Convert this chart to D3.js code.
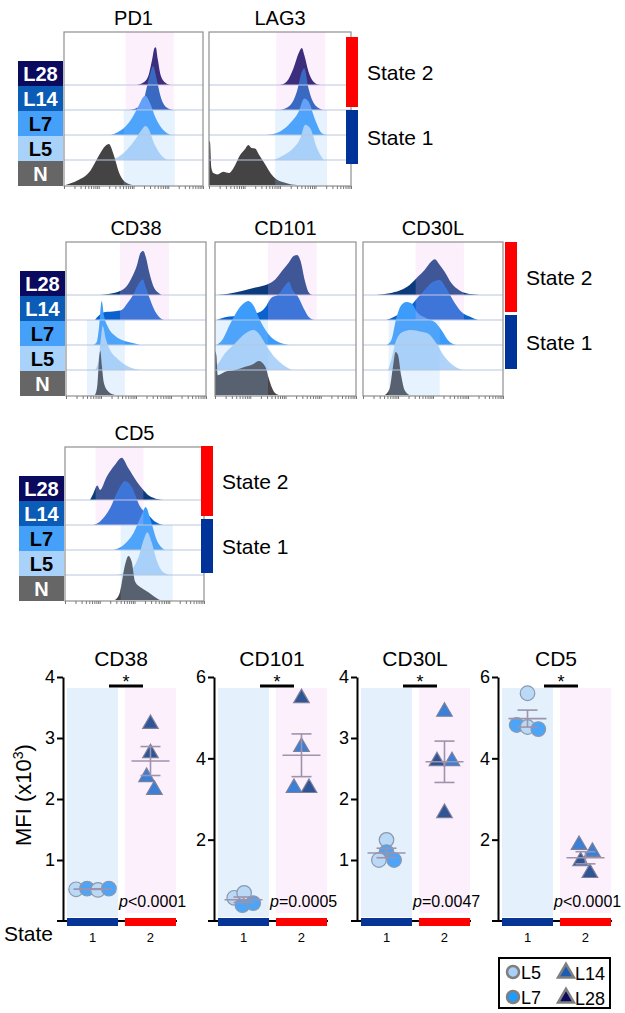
<!DOCTYPE html>
<html>
<head>
<meta charset="utf-8">
<script src="https://cdn.jsdelivr.net/npm/d3@7"></script>
<style>
  body { margin: 0; background: #fff; }
  svg { display: block; font-family: "Liberation Sans", Arial, sans-serif; }
</style>
</head>
<body>
<div id="chart"></div>
<script>
// rows of the offset histograms, top to bottom
var rows = ["L28", "L14", "L7", "L5", "N"];
var rowColor = ["#0a0a5e", "#0b5cb6", "#45a0fa", "#a9d2fb", "#666666"];
var rowText = ["#fff", "#fff", "#000", "#000", "#fff"];

// histogram traces: [fluorescence (% of axis), count (% of mode)]
var pd1L28 = [[52.6,0],[57.4,6],[61,24],[63.4,58],[65.1,84],[66,86],[67.5,58],[69.4,24],[73,5],[76.6,0]];
var pd1L14 = [[46.7,0],[52.6,5],[57.4,24],[59.8,55],[62.2,85],[64.1,100],[66.5,73],[69.4,32],[74.2,5],[78.9,0]];
var pd1L7 = [[33.5,0],[40.7,10],[47.8,33],[53.8,67],[56.9,86],[58.6,89],[61.7,74],[65.8,40],[71.8,10],[76.6,0]];
var pd1L5 = [[33.5,0],[39.5,8],[45.5,24],[51.4,47],[56.2,70],[58.6,77],[61,70],[64.6,39],[69.4,13],[74.2,0]];
var pd1N = [[1.2,0],[9.6,10],[19.1,33],[25.1,67],[29.9,89],[32.3,93],[35.9,67],[39.5,29],[44.3,6],[49,0]];

var lag3L28 = [[50,0],[54.8,8],[59.5,38],[63.1,72],[65.4,84],[67.1,68],[70.1,30],[74.8,4],[78.4,0]];
var lag3L14 = [[50,0],[57.2,11],[61.9,42],[65.4,87],[67.1,95],[70.1,49],[74.8,11],[80.7,0]];
var lag3L7 = [[40.7,0],[50.1,8],[57.2,27],[63.1,53],[67.1,83],[70.1,76],[74.8,34],[79.5,4],[83.1,0]];
var lag3L5 = [[45.4,0],[52.5,11],[59.5,27],[64.2,49],[67.8,80],[71.3,72],[76,27],[80.7,0]];
var lag3N = [[0,100],[0.7,98],[1.6,40],[3.1,27],[6,24],[10.1,30],[14,27],[17.2,38],[21.9,68],[25,80],[27.8,91],[30,84],[32.5,83],[35,70],[38.4,53],[45.4,19],[54.8,4],[61.9,0]];

var cd38L28 = [[24.3,0],[31.4,3],[38.6,9],[43.3,20],[46.9,39],[50.5,66],[53.3,96],[55.2,100],[57.1,85],[59.5,51],[62.4,20],[66,5],[68.3,0]];
var cd38L14 = [[20.7,0],[23.1,9],[27.9,18],[35,20],[39.8,23],[43.3,36],[48.1,58],[52.4,85],[54.8,92],[57.1,74],[60,47],[63.6,20],[67.1,5],[70,0]];
var cd38L7 = [[19.5,0],[21.9,6],[23.6,40],[25.5,100],[27.1,67],[30.2,40],[35,21],[41,10],[46.9,5],[52.9,0]];
var cd38L5 = [[20.7,0],[23.1,20],[24.8,69],[26.2,100],[28.6,69],[31.4,46],[36.2,27],[42.1,12],[52.9,0]];
var cd38N = [[20.7,0],[22.4,23],[23.6,80],[24.5,100],[25.7,64],[27.1,27],[30.2,8],[35,0]];

var cd101L28 = [[1.2,0],[9.5,3],[19,9],[28.6,17],[36.9,24],[42.9,36],[47.6,55],[52.4,74],[56,89],[58.3,91],[60.7,77],[63.8,32],[66.7,5],[69,0]];
var cd101L14 = [[1.2,0],[7.1,6],[19,10],[31,17],[35.7,29],[39.3,48],[45.2,59],[50.5,82],[52.4,87],[55.2,67],[59,52],[63.1,25],[66.7,6],[70.2,0]];
var cd101L7 = [[1.2,0],[4.8,10],[10.7,48],[16.7,82],[21.4,97],[23.8,100],[27.4,89],[32.1,55],[36.9,29],[42.9,10],[52.4,0]];
var cd101L5 = [[0,8],[1.2,11],[7.1,38],[14.3,61],[21.4,83],[27.4,91],[31,83],[36.9,53],[42.9,27],[50,8],[54.8,0]];
var cd101N = [[0,100],[1,90],[1.9,45],[7.1,53],[14.3,57],[21.4,64],[27,70],[31,77],[35.7,64],[38.1,38],[41.7,8],[45.2,0]];

var cd30lL28 = [[9.5,0],[19,4],[26.2,10],[33.3,23],[39.3,42],[44,57],[48.8,76],[51.2,81],[54.8,68],[58.3,53],[63.1,27],[69,10],[76.2,2],[83.3,0]];
var cd30lL14 = [[16.7,0],[22.6,8],[28.6,19],[34.5,34],[38.1,47],[44,68],[50,87],[54.8,91],[59.5,72],[64.3,45],[70.2,19],[76.2,8],[82.1,0]];
var cd30lL7 = [[16.7,0],[20.2,11],[23.8,61],[27.4,91],[31,98],[34.5,95],[39.3,72],[45.2,61],[52.4,49],[56,34],[60.7,11],[66.7,0]];
var cd30lL5 = [[17.9,0],[20.2,23],[23.8,68],[28.6,87],[34.5,91],[41.7,87],[46.4,83],[52.4,61],[58.3,30],[64.3,11],[71.4,0]];
var cd30lN = [[15.5,0],[19,15],[21.4,64],[23.3,98],[25,91],[27.4,42],[29.8,11],[33.3,0]];

var cd5L28 = [[18,0],[20.4,15],[23.3,33],[25.2,23],[30,53],[36,80],[40.8,96],[45.6,72],[51.6,42],[56.4,23],[60,11],[63.5,5],[70.7,0]];
var cd5L14 = [[20.4,0],[25.2,8],[32.4,38],[38.4,80],[43.2,100],[48,87],[54,42],[60,23],[64.7,8],[70.7,0]];
var cd5L7 = [[34.8,0],[42,11],[49.2,38],[55.2,80],[58,98],[61.2,72],[66,23],[72,0]];
var cd5L5 = [[37.2,0],[46.8,10],[52.8,40],[56.8,82],[59.2,97],[62.4,74],[66,33],[70.7,6],[75.5,0]];
var cd5N = [[36,0],[39.6,19],[43.2,80],[45.6,100],[48,87],[50.4,42],[55.2,27],[61.2,15],[66,4],[68.3,0]];

// state gates [from, to] in % of axis
var pd1Gate2 = [44.3, 79.0], pd1Gate1 = [43.0, 79.7];
var lag3Gate2 = [47.3, 81.9], lag3Gate1 = [46.6, 83.1];
var cd38Gate2 = [38.6, 73.6], cd38Gate1 = [15.0, 42.1];
var cd101Gate2 = [37.6, 72.1], cd101Gate1 = [0, 37.6];
var cd30lGate2 = [37.6, 72.1], cd30lGate1 = [18.3, 54.8];
var cd5Gate2 = [22.0, 56.4], cd5Gate1 = [40.0, 77.5];

// MFI dot plots
var mfiMarkers = ["CD38", "CD101", "CD30L", "CD5"];
var mfiTop = [4, 6, 4, 6];
var mfiTicks = [[1, 2, 3, 4], [2, 4, 6], [1, 2, 3, 4], [2, 4, 6]];
var pValues = ["<0.0001", "=0.0005", "=0.0047", "<0.0001"];
var stateLabels = ["1", "2"];
var state1Lines = ["L5", "L7", "L5", "L7"];
var state2Lines = ["L14", "L28", "L14", "L28"];
var cd38S1 = [0.52, 0.53, 0.51, 0.53], cd38S2 = [2.36, 3.23, 2.15, 2.75];
var cd101S1 = [0.57, 0.39, 0.69, 0.44], cd101S2 = [4.28, 5.48, 3.27, 3.27];
var cd30lS1 = [1.33, 1.13, 1.00, 1.00], cd30lS2 = [3.43, 2.62, 2.62, 1.77];
var cd5S1 = [5.60, 4.82, 4.77, 4.72], cd5S2 = [1.87, 1.47, 1.70, 1.18];

var svg = d3.select("#chart").append("svg")
  .attr("width", 625)
  .attr("height", 1013);

// ---------- offset histograms ----------
var blocks = [
  { top: 32, stateX: 346, stateDy: 5, fills: ["#08075a", "#0552b1", "#3b9cfb", "#b0d4f9", "#444444"],
    panels: [
      { name: "PD1", x: 64, w: 139, traces: [pd1L28, pd1L14, pd1L7, pd1L5, pd1N], g2: pd1Gate2, g1: pd1Gate1 },
      { name: "LAG3", x: 209, w: 142, traces: [lag3L28, lag3L14, lag3L7, lag3L5, lag3N], g2: lag3Gate2, g1: lag3Gate1 }
    ] },
  { top: 242, stateX: 505, stateDy: 0, fills: ["#0c3b7c", "#0a62d0", "#3b9cfb", "#b0d4f9", "#4a464a"],
    panels: [
      { name: "CD38", x: 66, w: 140, traces: [cd38L28, cd38L14, cd38L7, cd38L5, cd38N], g2: cd38Gate2, g1: cd38Gate1 },
      { name: "CD101", x: 215, w: 141, traces: [cd101L28, cd101L14, cd101L7, cd101L5, cd101N], g2: cd101Gate2, g1: cd101Gate1 },
      { name: "CD30L", x: 363, w: 140, traces: [cd30lL28, cd30lL14, cd30lL7, cd30lL5, cd30lN], g2: cd30lGate2, g1: cd30lGate1 }
    ] },
  { top: 447, stateX: 201, stateDy: -1, fills: ["#0c3b7c", "#0a62d0", "#3b9cfb", "#b0d4f9", "#4a464a"],
    panels: [
      { name: "CD5", x: 65, w: 139, traces: [cd5L28, cd5L14, cd5L7, cd5L5, cd5N], g2: cd5Gate2, g1: cd5Gate1 }
    ] }
];

var boxH = 154, rowH = 25, rowTop = 29;
var hScale = d3.scaleLinear().domain([0, 100]).range([0, 44]);

blocks.forEach(function(b, bi) {
  var g = svg.append("g");
  var T = b.top;
  var baseY = rows.map(function(r, i) { return T + rowTop + rowH * (i + 1) - 1; });

  // row labels
  var lx = b.panels[0].x - 46;
  rows.forEach(function(r, i) {
    g.append("rect")
      .attr("x", lx).attr("y", T + rowTop + rowH * i)
      .attr("width", 45).attr("height", rowH)
      .attr("fill", rowColor[i]);
    g.append("text")
      .attr("x", lx + 22.5).attr("y", T + rowTop + rowH * i + 19.5)
      .attr("text-anchor", "middle")
      .style("font-size", "20px").style("font-weight", "bold")
      .attr("fill", rowText[i])
      .text(r);
  });

  b.panels.forEach(function(p, pi) {
    var x = d3.scaleLinear().domain([0, 100]).range([p.x, p.x + p.w]);
    var clipId = "clip" + bi + "_" + pi;
    g.append("clipPath").attr("id", clipId)
      .append("rect").attr("x", p.x).attr("y", T).attr("width", p.w).attr("height", boxH);
    var pg = g.append("g").attr("clip-path", "url(#" + clipId + ")");

    // back row first, bottom row in front
    p.traces.forEach(function(tr, i) {
      var area = d3.area()
        .x(function(d) { return x(d[0]); })
        .y0(baseY[i])
        .y1(function(d) { return baseY[i] - hScale(d[1]); })
        .curve(d3.curveMonotoneX);
      pg.append("path").datum(tr)
        .attr("d", area)
        .attr("fill", b.fills[i]);
    });

    rows.forEach(function(r, i) {
      if (i == 4) return;
      pg.append("line")
        .attr("x1", p.x).attr("x2", p.x + p.w)
        .attr("y1", baseY[i]).attr("y2", baseY[i])
        .attr("stroke", "#bcc8de").attr("stroke-width", 1.2);
    });

    // state gates overlaid
    pg.append("rect")
      .attr("x", x(p.g2[0])).attr("width", x(p.g2[1]) - x(p.g2[0]))
      .attr("y", T).attr("height", baseY[1] - T)
      .attr("fill", "rgb(246,186,246)").attr("opacity", 0.22);
    pg.append("rect")
      .attr("x", x(p.g1[0])).attr("width", x(p.g1[1]) - x(p.g1[0]))
      .attr("y", baseY[1]).attr("height", T + boxH - baseY[1])
      .attr("fill", "rgb(141,196,246)").attr("opacity", 0.22);

    g.append("rect")
      .attr("x", p.x).attr("y", T).attr("width", p.w).attr("height", boxH)
      .attr("fill", "none").attr("stroke", "#8f8f8f").attr("stroke-width", 1.2);

    var lg = d3.scaleLog().domain([10, 100000]).range([p.x, p.x + p.w]);
    g.append("g")
      .attr("transform", "translate(0," + (T + boxH) + ")")
      .call(d3.axisBottom(lg).tickSize(3).tickFormat(""))
      .call(function(a) {
        a.select(".domain").remove();
        a.selectAll("line").attr("stroke", "#777");
      });

    g.append("text")
      .attr("x", p.x + p.w / 2).attr("y", T - 7)
      .attr("text-anchor", "middle")
      .style("font-size", "20px")
      .text(p.name);
  });

  // state bars
  var sy = T + b.stateDy;
  g.append("rect").attr("x", b.stateX).attr("y", sy).attr("width", 12).attr("height", 70).attr("fill", "#ff0000");
  g.append("rect").attr("x", b.stateX).attr("y", sy + 73).attr("width", 12).attr("height", 54).attr("fill", "#003399");
  g.append("text").attr("x", b.stateX + 21).attr("y", sy + 35 + 8).style("font-size", "21px").text("State 2");
  g.append("text").attr("x", b.stateX + 21).attr("y", sy + 100 + 8).style("font-size", "21px").text("State 1");
});

// ---------- MFI dot plots ----------
var plotX = [63, 214, 357, 498];
var s1Data = [cd38S1, cd101S1, cd30lS1, cd5S1];
var s2Data = [cd38S2, cd101S2, cd30lS2, cd5S2];
var y0 = 921, yTopPx = 677;

var dotFill = { L5: "#bad9f6", L7: "#4ca5f8", L14: "#3a7fd8", L28: "#2f5595" };
var legendFill = { L5: "#a8d0f8", L7: "#1f9cff", L14: "#1a5db4", L28: "#0b0b5c" };

function swarm(vals, cx, y, r) {
  var nodes = vals.map(function(v, i) {
    return { v: v, i: i, x: cx + (i - 1.5) * 0.8, y: y(v), fy: y(v) };
  });
  var sim = d3.forceSimulation(nodes)
    .force("x", d3.forceX(cx).strength(0.12))
    .force("c", d3.forceCollide(r))
    .stop();
  for (var k = 0; k < 200; k++) sim.tick();
  return nodes;
}

mfiMarkers.forEach(function(m, mi) {
  var X0 = plotX[mi];
  var g = svg.append("g");
  var y = d3.scaleLinear().domain([0, mfiTop[mi]]).range([y0, yTopPx]);
  var xb = d3.scaleBand().domain(stateLabels).range([X0 + 4, X0 + 113]).paddingInner(0.12);

  // background bands
  g.append("rect").attr("x", xb("1")).attr("width", xb.bandwidth())
    .attr("y", yTopPx + 11).attr("height", 917 - yTopPx - 11).attr("fill", "#e4f1fd");
  g.append("rect").attr("x", xb("2")).attr("width", xb.bandwidth())
    .attr("y", yTopPx + 11).attr("height", 913 - yTopPx - 11).attr("fill", "#fdf0fd");

  // axes
  g.append("g")
    .attr("transform", "translate(" + X0 + ",0)")
    .call(d3.axisLeft(y).tickValues(mfiTicks[mi]).tickFormat(d3.format("d"))
      .tickSize(6).tickSizeOuter(0).tickPadding(2))
    .call(function(a) {
      a.select(".domain").attr("stroke-width", 2);
      a.selectAll(".tick line").attr("stroke-width", 2);
      a.selectAll("text").style("font-size", "18px").style("font-family", "Liberation Sans, Arial, sans-serif");
    });
  g.append("line").attr("x1", X0 - 6).attr("x2", X0 + 114).attr("y1", y0).attr("y2", y0)
    .attr("stroke", "#000").attr("stroke-width", 2);
  g.append("rect").attr("x", xb("1")).attr("width", xb.bandwidth()).attr("y", y0 - 3).attr("height", 8).attr("fill", "#073595");
  g.append("rect").attr("x", xb("2")).attr("width", xb.bandwidth()).attr("y", y0 - 3).attr("height", 8).attr("fill", "#ff0000");
  stateLabels.forEach(function(s) {
    g.append("text").attr("x", xb(s) + xb.bandwidth() / 2).attr("y", 942)
      .attr("text-anchor", "middle").style("font-size", "13px").text(s);
  });

  // points
  var groups = [
    { vals: s1Data[mi], lines: state1Lines, cx: xb("1") + xb.bandwidth() / 2, shape: "circle" },
    { vals: s2Data[mi], lines: state2Lines, cx: xb("2") + xb.bandwidth() / 2, shape: "triangle" }
  ];
  groups.forEach(function(gr) {
    var nodes = swarm(gr.vals, gr.cx, y, gr.shape == "circle" ? 5.5 : 7.5);
    nodes.sort(function(a, b) { return a.i - b.i; });
    if (gr.shape == "circle") {
      g.selectAll(null).data(nodes).enter().append("circle")
        .attr("cx", function(d) { return d.x; })
        .attr("cy", function(d) { return d.y; })
        .attr("r", 7.3)
        .attr("fill", function(d) { return dotFill[gr.lines[d.i]]; })
        .attr("stroke", "#8a98ad").attr("stroke-width", 1.2);
    } else {
      g.selectAll(null).data(nodes).enter().append("path")
        .attr("d", d3.symbol(d3.symbolTriangle, 105))
        .attr("transform", function(d) { return "translate(" + d.x + "," + d.y + ")"; })
        .attr("fill", function(d) { return dotFill[gr.lines[d.i]]; })
        .attr("stroke", "#7d7f9a").attr("stroke-width", 1.2);
    }
    // mean and SEM
    var mean = d3.mean(gr.vals);
    var sem = d3.deviation(gr.vals) / Math.sqrt(gr.vals.length);
    var lc = "#9d93ab";
    g.append("line").attr("x1", gr.cx - 19).attr("x2", gr.cx + 19)
      .attr("y1", y(mean)).attr("y2", y(mean)).attr("stroke", lc).attr("stroke-width", 1.6);
    g.append("line").attr("x1", gr.cx).attr("x2", gr.cx)
      .attr("y1", y(mean + sem)).attr("y2", y(mean - sem)).attr("stroke", lc).attr("stroke-width", 1.6);
    [mean + sem, mean - sem].forEach(function(v) {
      g.append("line").attr("x1", gr.cx - 10).attr("x2", gr.cx + 10)
        .attr("y1", y(v)).attr("y2", y(v)).attr("stroke", lc).attr("stroke-width", 1.6);
    });
  });

  // p value
  var pt = g.append("text").attr("x", X0 + 56).attr("y", 907).style("font-size", "16px");
  pt.append("tspan").style("font-style", "italic").text("p");
  pt.append("tspan").text(pValues[mi]);

  // significance bar
  var mid = X0 + 63;
  g.append("line").attr("x1", mid - 17).attr("x2", mid + 17).attr("y1", 686).attr("y2", 686)
    .attr("stroke", "#000").attr("stroke-width", 3);
  g.append("text").attr("x", mid).attr("y", 688).attr("text-anchor", "middle")
    .style("font-size", "18px").text("*");

  g.append("text").attr("x", X0 + 58).attr("y", 666).attr("text-anchor", "middle")
    .style("font-size", "21px").text(m);
});

var yl = svg.append("text")
  .attr("transform", "translate(31,795) rotate(-90)")
  .attr("text-anchor", "middle")
  .style("font-size", "22px");
yl.append("tspan").text("MFI (x10");
yl.append("tspan").attr("dy", -8).style("font-size", "14px").text("3");
yl.append("tspan").attr("dy", 8).text(")");

svg.append("text").attr("x", 4).attr("y", 941).style("font-size", "21px").text("State");

// legend
var leg = svg.append("g");
leg.append("rect").attr("x", 499).attr("y", 958).attr("width", 111).attr("height", 50)
  .attr("fill", "#fff").attr("stroke", "#000").attr("stroke-width", 2);
var legItems = [
  { name: "L5", shape: "circle", x: 513, y: 972 },
  { name: "L7", shape: "circle", x: 513, y: 997 },
  { name: "L14", shape: "triangle", x: 566, y: 973 },
  { name: "L28", shape: "triangle", x: 566, y: 998 }
];
legItems.forEach(function(it) {
  if (it.shape == "circle") {
    leg.append("circle").attr("cx", it.x).attr("cy", it.y).attr("r", 6)
      .attr("fill", legendFill[it.name]).attr("stroke", "#7f7f7f").attr("stroke-width", 2.5);
  } else {
    leg.append("path").attr("d", d3.symbol(d3.symbolTriangle, 110))
      .attr("transform", "translate(" + it.x + "," + it.y + ")")
      .attr("fill", legendFill[it.name]).attr("stroke", "#7f7f7f").attr("stroke-width", 2.5);
  }
  leg.append("text").attr("x", it.x + (it.shape == "circle" ? 8 : 9)).attr("y", it.y + 6.5)
    .style("font-size", "18px").text(it.name);
});
</script>
</body>
</html>
